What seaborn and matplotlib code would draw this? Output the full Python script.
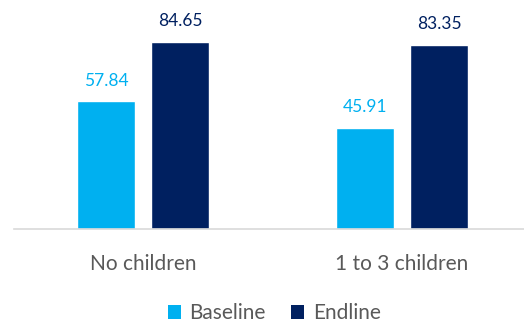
import matplotlib
matplotlib.use("Agg")
import matplotlib.pyplot as plt
import seaborn as sns
import pandas as pd

categories = ["No children", "1 to 3 children"]
series = ["Baseline", "Endline"]
baseline = [57.84, 45.91]
endline = [84.65, 83.35]
colors = ["#00B0F0", "#002060"]

df = pd.DataFrame({
    "cat": categories * 2,
    "series": [series[0]] * 2 + [series[1]] * 2,
    "value": baseline + endline,
})

sns.set_theme(style="white")
plt.rcParams["font.family"] = ["Lato", "DejaVu Sans"]

fig = plt.figure(figsize=(5.24, 3.27), dpi=100)
W, H = 524, 327
ax = fig.add_axes([13.5 / W, 1 - 229 / H, (524 - 13.5) / W, (229 - 8) / H])

sns.barplot(data=df, x="cat", y="value", hue="series", order=categories,
            hue_order=series, palette=colors, width=0.571, gap=0.216,
            ax=ax, legend=False, saturation=1)

ax.set_xlim(-0.5, (524 - 143) / 259)
ax.set_ylim(0, 100)
for i, cont in enumerate(ax.containers):
    ax.bar_label(cont, labels=[f"{v:.2f}" for v in cont.datavalues],
                 padding=9, color=colors[i], fontsize=12.5)

for s in ["top", "right", "left"]:
    ax.spines[s].set_visible(False)
ax.spines["bottom"].set_color("#D9D9D9")
ax.spines["bottom"].set_linewidth(1.2)
ax.set_yticks([])
ax.set_xlabel("")
ax.set_ylabel("")
ax.tick_params(axis="x", length=0, pad=18, labelsize=15, labelcolor="#595959")

from matplotlib.patches import Patch
handles = [Patch(facecolor=c, edgecolor="none") for c in colors]
fig.legend(handles, series, loc="center", bbox_to_anchor=(0.523, 1 - 313 / H),
           ncol=2, frameon=False, fontsize=15, labelcolor="#595959",
           handlelength=0.65, handleheight=0.65, handletextpad=0.4, columnspacing=1.2)

fig.savefig("out.png", dpi=100)
